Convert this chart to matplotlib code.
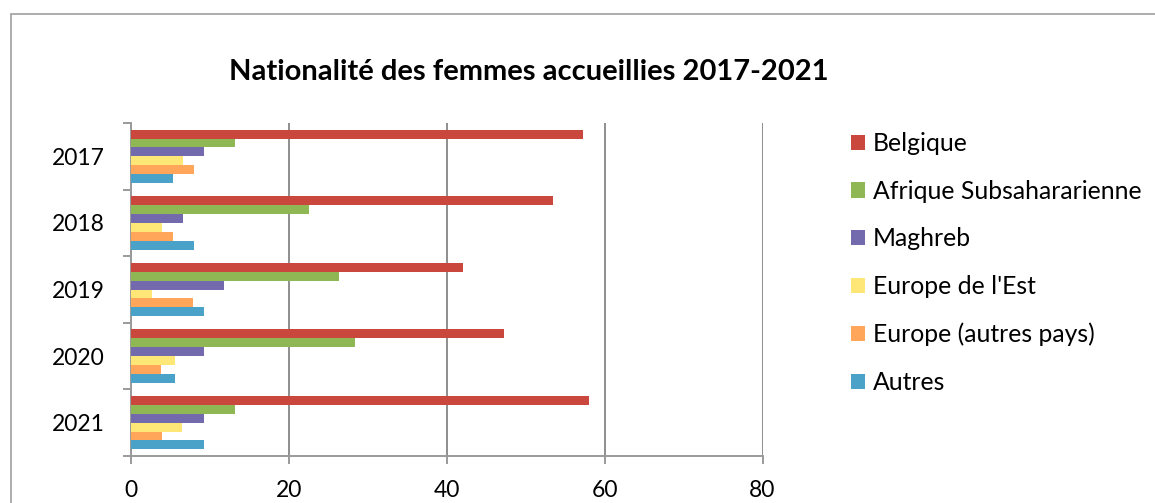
import numpy as np
import matplotlib
matplotlib.use('Agg')
import matplotlib.pyplot as plt
from matplotlib.patches import Rectangle, Patch

plt.rcParams['font.family'] = ['Lato', 'DejaVu Sans']

years = ['2017', '2018', '2019', '2020', '2021']
series = ['Belgique', 'Afrique Subsahararienne', 'Maghreb', "Europe de l'Est",
          'Europe (autres pays)', 'Autres']
belgique = [57.3, 53.4, 42.1, 47.2, 58.0]
afrique = [13.2, 22.6, 26.3, 28.4, 13.2]
maghreb = [9.25, 6.55, 11.8, 9.3, 9.2]
europe_est = [6.55, 3.9, 2.6, 5.6, 6.5]
europe_autres = [7.95, 5.3, 7.8, 3.75, 3.9]
autres = [5.3, 7.95, 9.2, 5.6, 9.2]
values = [belgique, afrique, maghreb, europe_est, europe_autres, autres]
colors = ['#C9473C', '#8FB753', '#7369AD', '#FFE777', '#FFA65A', '#4BA2C9']

fig = plt.figure(figsize=(11.55, 5.03), dpi=100)
ax = fig.add_axes([131 / 1155, 1 - 456 / 503, (762.5 - 131) / 1155, 333 / 503])

y = np.arange(len(years))
h = 1 / 7.5
for j, (vals, col) in enumerate(zip(values, colors)):
    ax.barh(y - 3 * h + (j + 0.5) * h, vals, height=h, color=col,
            edgecolor='none', zorder=3, label=series[j])

ax.set_xlim(0, 80)
ax.set_ylim(len(years) - 0.5, -0.5)
ax.set_xticks([0, 20, 40, 60, 80])
ax.set_yticks(y)
ax.set_yticklabels(years)
ax.set_yticks(np.arange(-0.5, len(years)), minor=True)
ax.grid(axis='x', color='#8E8E8E', linewidth=1.4, zorder=0)
ax.tick_params(axis='y', which='major', length=0, pad=19, labelsize=16.5)
ax.tick_params(axis='y', which='minor', length=6, width=1.4, color='#9A9A9A')
ax.tick_params(axis='x', length=6, width=1.4, color='#9A9A9A', pad=11, labelsize=16.5)
for s in ['top', 'right']:
    ax.spines[s].set_visible(False)
for s in ['left', 'bottom']:
    ax.spines[s].set_color('#9A9A9A')
    ax.spines[s].set_linewidth(1.4)

fig.text(529 / 1155, 1 - 72 / 503, 'Nationalité des femmes accueillies 2017-2021',
         ha='center', va='center', fontsize=21, fontweight='bold')

handles = [Patch(facecolor=c, edgecolor='none') for c in colors]
fig.legend(handles, series, loc='upper left', bbox_to_anchor=(851 / 1155, 1 - 132 / 503),
           frameon=False, fontsize=17.8, handlelength=0.57, handleheight=0.57,
           handletextpad=0.3, labelspacing=1.0, borderaxespad=0, borderpad=0)

fig.patches.append(Rectangle((11 / 1155, -0.1), 1.2, 1.1 - 14 / 503,
                             transform=fig.transFigure, fill=False,
                             edgecolor='#A6A6A6', linewidth=1.3))

fig.savefig('out.png', dpi=100)
